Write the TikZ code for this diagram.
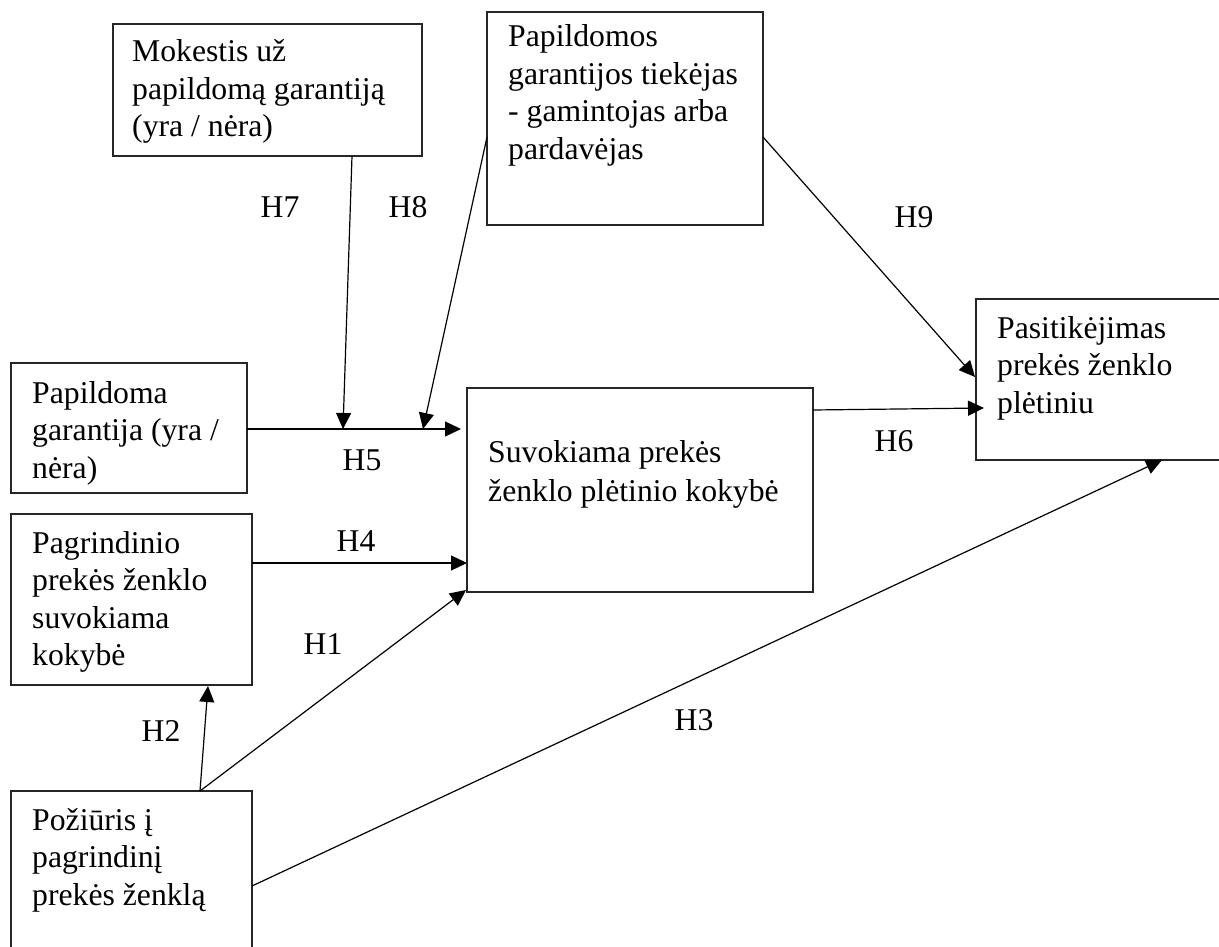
\documentclass[tikz,border=0pt]{standalone}
\usepackage{fontspec}
\setmainfont{Liberation Serif}
\usetikzlibrary{arrows.meta}
\begin{document}
\begin{tikzpicture}[x=1pt,y=-1pt,
  box/.style={draw=black!85, line width=1.3pt, minimum width=#1, anchor=north west, inner sep=0pt, outer sep=0pt},
  txt/.style={anchor=base west, align=left, inner sep=0pt, font=\fontsize{31.7}{37.5}\selectfont},
  txtc/.style={anchor=base west, align=left, inner sep=0pt, font=\fontsize{31.7}{38.5}\selectfont},
  lab/.style={inner sep=0pt, font=\fontsize{31.7}{37}\selectfont},
  arr/.style={line width=1.2pt, -{Triangle[length=16pt,width=15pt]}}]
\useasboundingbox (0,0) rectangle (1219,947);
\clip (0,0) rectangle (1219,947);
% boxes
\node[box=309pt, minimum height=132pt] (mok) at (113,24) {};
\node[box=276pt, minimum height=213pt] (tiek) at (487,12) {};
\node[box=300pt, minimum height=161pt] (pas) at (976,299) {};
\node[box=236pt, minimum height=130pt] (pap) at (11,363) {};
\node[box=346pt, minimum height=204pt] (suv) at (467,388) {};
\node[box=241pt, minimum height=171pt] (pag) at (11,514) {};
\node[box=241pt, minimum height=250pt] (poz) at (11,791) {};
% texts (anchored at the baseline of their last line)
\node[txt] (mokt) at (132,137) {Mokestis už\\papildomą garantiją\\(yra / nėra)};
\node[txt] (tiekt) at (508,159.5) {Papildomos\\garantijos tiekėjas\\- gamintojas arba\\pardavėjas};
\node[txt] (past) at (997,413) {Pasitikėjimas\\prekės ženklo\\plėtiniu};
\node[txt] (papt) at (32,478) {Papildoma\\garantija (yra /\\nėra)};
\node[txtc] (suvt) at (488,501) {Suvokiama prekės\\ženklo plėtinio kokybė};
\node[txt] (pagt) at (32,665.5) {Pagrindinio\\prekės ženklo\\suvokiama\\kokybė};
\node[txt] (pozt) at (32,905) {Požiūris į\\pagrindinį\\prekės ženklą};
% connector points
\coordinate (a5) at (247,429); \coordinate (b5) at (461,429);
\coordinate (a7) at (352,156); \coordinate (b7) at (343,429);
\coordinate (a8) at (487,137); \coordinate (b8) at (423,429);
\coordinate (a9) at (763,137); \coordinate (b9) at (975,377);
\coordinate (a6) at (813,410); \coordinate (b6) at (984,408);
\coordinate (a4) at (252,563); \coordinate (b4) at (467,563);
\coordinate (a1) at (200,791); \coordinate (b1) at (466,590);
\coordinate (b2) at (208,686);
\coordinate (a3) at (252,886); \coordinate (b3) at (1162,460);
% connectors
\draw[arr] (a5) -- (b5);
\draw[arr] (a7) -- (b7);
\draw[arr] (a8) -- (b8);
\draw[arr] (a9) -- (b9);
\draw[arr] (a6) -- (b6);
\draw[arr] (a4) -- (b4);
\draw[arr] (a1) -- (b1);
\draw[arr] (a1) -- (b2);
\draw[arr] (a3) -- (b3);
% labels
\node[lab] (h7) at (280,207) {H7};
\node[lab] (h8) at (408,207) {H8};
\node[lab] (h9) at (914,217) {H9};
\node[lab] (h5) at (362,460) {H5};
\node[lab] (h6) at (894,441) {H6};
\node[lab] (h4) at (356,541) {H4};
\node[lab] (h1) at (323,644) {H1};
\node[lab] (h2) at (161,731) {H2};
\node[lab] (h3) at (694,720) {H3};
\end{tikzpicture}
\end{document}
